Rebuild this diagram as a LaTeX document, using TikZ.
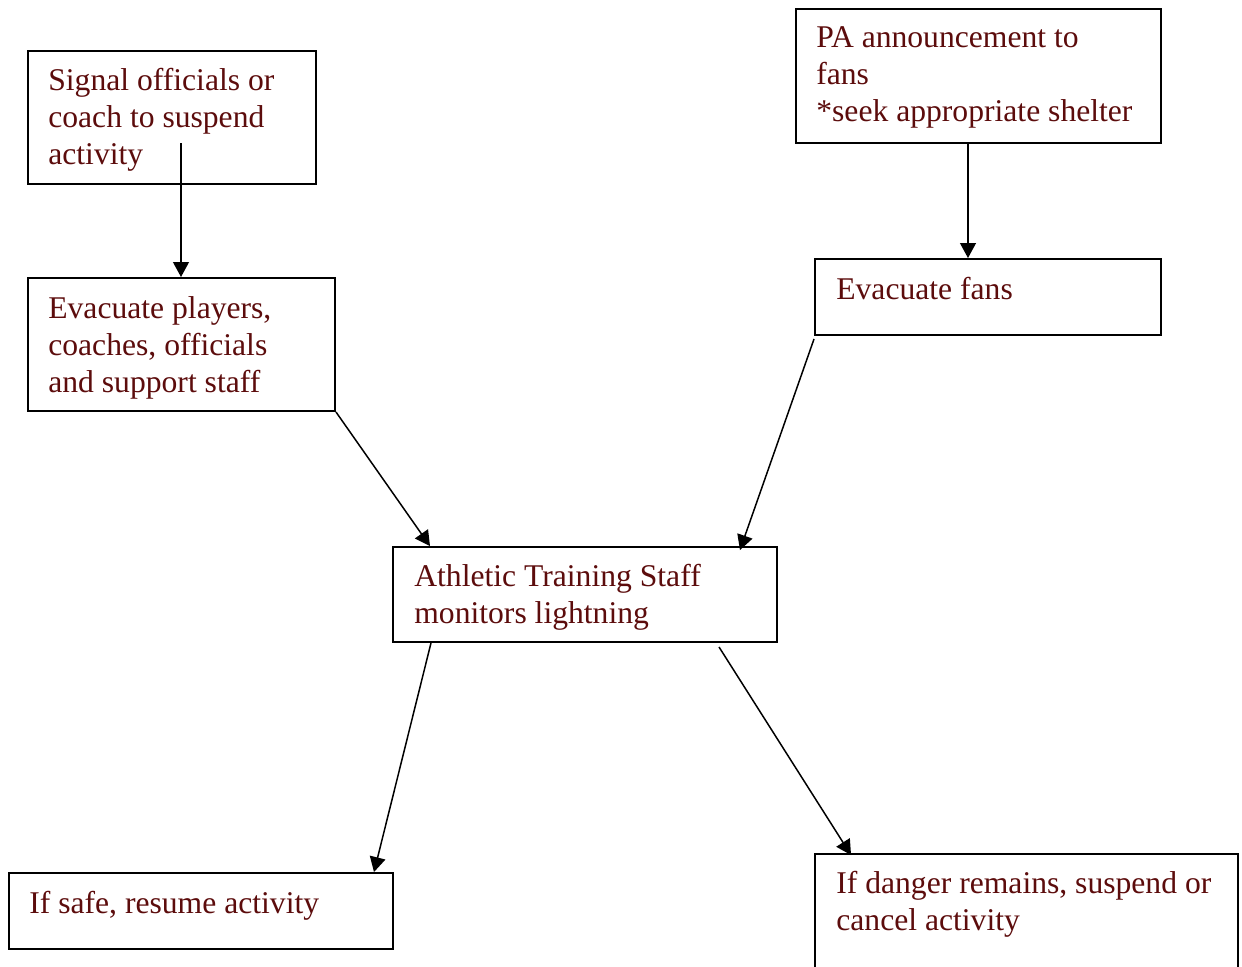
\documentclass[tikz,border=0pt]{standalone}
\usepackage{fontspec}
\setmainfont{Liberation Serif}
\usetikzlibrary{arrows.meta,fit,calc}
\definecolor{notecol}{RGB}{92,12,12}

\begin{document}
\begin{tikzpicture}[x=0.02cm,y=-0.02cm,>={Triangle[length=8.5pt,width=9pt]},
  flowbox/.style={draw,line width=1.1pt,inner sep=0pt},
  note/.style={anchor=north west,inner sep=0pt,align=left,text=notecol,
    font=\fontsize{18}{21}\selectfont},
  flowarrow/.style={->,line width=0.85pt}]
\useasboundingbox (0,0) rectangle (1242,967);
\clip (0,0) rectangle (1242,967);
% boxes
\node[flowbox,fit={(28,51) (316,184)}] (signal) {};
\node[flowbox,fit={(796,9) (1161,143)}] (pa) {};
\node[flowbox,fit={(28,278) (335,411)}] (players) {};
\node[flowbox,fit={(815,259) (1161,335)}] (fans) {};
\node[flowbox,fit={(393,547) (777,642)}] (athletic) {};
\node[flowbox,fit={(9,873) (393,949)}] (safe) {};
\node[flowbox,fit={(815,854) (1238,990)}] (danger) {};
% texts
\node[note] (signal-t) at (48,68) {Signal officials or\\coach to suspend\\activity};
\node[note] (pa-t) at (816,26) {PA announcement to\\fans\\*seek appropriate shelter};
\node[note] (players-t) at (48,296) {Evacuate players,\\coaches, officials\\and support staff};
\node[note] (fans-t) at (836,277) {Evacuate fans};
\node[note] (athletic-t) at (414,564) {Athletic Training Staff\\monitors lightning};
\node[note] (safe-t) at (29,891) {If safe, resume activity};
\node[note] (danger-t) at (836,871) {If danger remains, suspend or\\cancel activity};
% arrows
\coordinate (sig-out) at (181,143);
\draw[flowarrow] (sig-out) -- (sig-out |- players.north);
\draw[flowarrow] (968,0 |- pa.south) -- (968,0 |- fans.north);
\draw[flowarrow] (players.south east) -- (430,0 |- athletic.north);
\draw[flowarrow] ($(fans.south west)+(0,3)$) -- ($(athletic.north east)+(-38,4)$);
\draw[flowarrow] (431,0 |- athletic.south) -- (374,0 |- safe.north);
\draw[flowarrow] ($(athletic.south)+(134,4)$) -- ($(danger.north west)+(37,2)$);
\end{tikzpicture}
\end{document}
